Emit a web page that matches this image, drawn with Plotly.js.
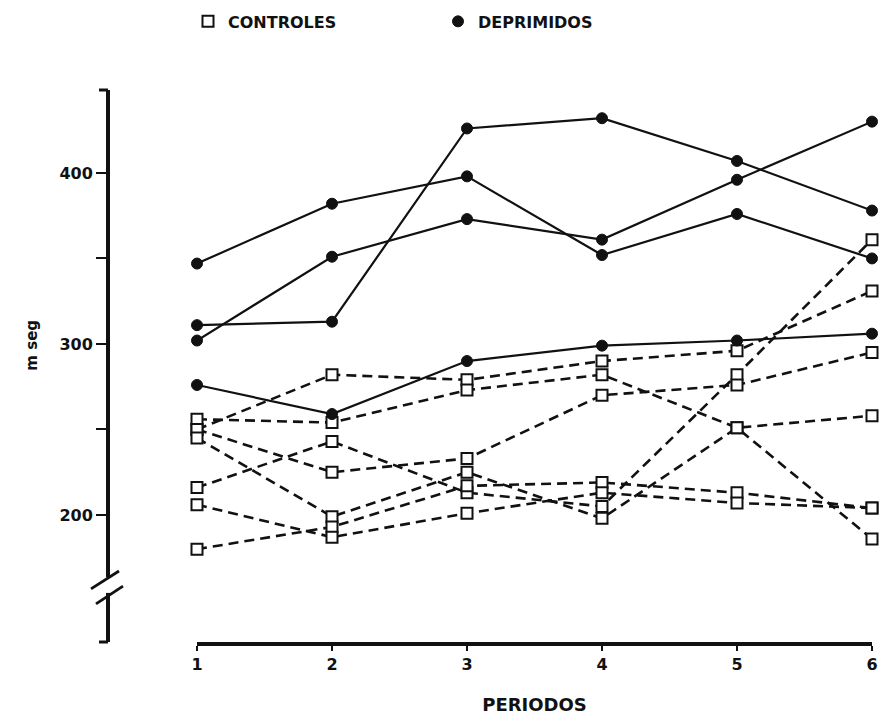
<!DOCTYPE html>
<html>
<head>
<meta charset="utf-8">
<script src="https://cdn.plot.ly/plotly-3.0.1.min.js"></script>
<style>html,body{margin:0;padding:0;background:#fff;}#chart{width:879px;height:720px;}</style>
</head>
<body>
<div id="chart"></div>
<script>
// Periods (x categories)
const periods = [1, 2, 3, 4, 5, 6];
const periodLabels = ['1', '2', '3', '4', '5', '6'];

// Controles (ms) — one array per subject
const control1 = [250, 282, 279, 290, 296, 331];
const control2 = [256, 254, 273, 282, 251, 186];
const control3 = [216, 243, 213, 205, 282, 361];
const control4 = [250, 225, 233, 270, 276, 295];
const control5 = [245, 199, 225, 198, 251, 258];
const control6 = [180, 193, 217, 219, 213, 204];
const control7 = [206, 187, 201, 213, 207, 204];

// Deprimidos (ms) — one array per subject
const deprimido1 = [347, 382, 398, 352, 376, 350];
const deprimido2 = [311, 313, 426, 432, 407, 378];
const deprimido3 = [302, 351, 373, 361, 396, 430];
const deprimido4 = [276, 259, 290, 299, 302, 306];

// Y ticks
const yTickVals = [200, 250, 300, 350, 400];
const yTickText = ['200', '', '300', '', '400'];

const controls = [control1, control2, control3, control4, control5, control6, control7];
const deprimidos = [deprimido1, deprimido2, deprimido3, deprimido4];

const FONT = 'DejaVu Sans, Arial, sans-serif';
const traces = [];

controls.forEach(function (s) {
  traces.push({
    x: periods, y: s, type: 'scatter', mode: 'lines',
    line: {color: '#111', width: 2.6, dash: '10px,6px'},
    showlegend: false, hoverinfo: 'skip', cliponaxis: false
  });
});
deprimidos.forEach(function (s) {
  traces.push({
    x: periods, y: s, type: 'scatter', mode: 'lines',
    line: {color: '#111', width: 2.2},
    showlegend: false, hoverinfo: 'skip', cliponaxis: false
  });
});

function flatX(series) { return series.flatMap(function () { return periods; }); }
function flatY(series) { return series.flatMap(function (s) { return s; }); }

traces.push({
  x: flatX(controls), y: flatY(controls), type: 'scatter', mode: 'markers',
  name: 'CONTROLES',
  marker: {symbol: 'square', size: 11, color: '#fff', line: {color: '#111', width: 2}},
  cliponaxis: false, hoverinfo: 'x+y'
});
traces.push({
  x: flatX(deprimidos), y: flatY(deprimidos), type: 'scatter', mode: 'markers',
  name: 'DEPRIMIDOS',
  marker: {symbol: 'circle', size: 11, color: '#111', line: {color: '#111', width: 1}},
  cliponaxis: false, hoverinfo: 'x+y'
});

const L = 108, R = 7, T = 90, B = 78;
const plotW = 879 - L - R;
const xDomStart = (197 - L) / plotW;
function px2paper(px) { return (px - L) / plotW; }

const layout = {
  width: 879, height: 720,
  margin: {l: L, r: R, t: T, b: B, autoexpand: false},
  paper_bgcolor: '#fff', plot_bgcolor: '#fff',
  font: {family: FONT, color: '#111', size: 16, weight: 'bold'},
  showlegend: true,
  legend: {
    orientation: 'h', x: px2paper(188), xanchor: 'left', y: 1.155, yanchor: 'top',
    entrywidth: 205, entrywidthmode: 'pixels',
    font: {family: FONT, size: 16, color: '#111', weight: 'bold'},
    itemclick: false, itemdoubleclick: false
  },
  xaxis: {
    domain: [xDomStart, 1], range: [1, 6], anchor: 'y',
    showline: true, linecolor: '#111', linewidth: 4,
    showgrid: false, zeroline: false,
    tickmode: 'array', tickvals: periods, ticktext: periodLabels,
    ticks: 'outside', ticklen: 5, tickwidth: 2, tickcolor: '#111',
    tickfont: {family: FONT, size: 16, color: '#111', weight: 'bold'},
    title: {text: 'PERIODOS', standoff: 26, font: {family: FONT, size: 18, color: '#111', weight: 'bold'}}
  },
  yaxis: {
    range: [125.7, 448.5], anchor: 'free', position: 0,
    showline: true, linecolor: '#111', linewidth: 4,
    showgrid: false, zeroline: false,
    tickmode: 'array', tickvals: yTickVals, ticktext: yTickText,
    ticks: 'outside', ticklen: 10, tickwidth: 2, tickcolor: '#111',
    tickfont: {family: FONT, size: 16, color: '#111', weight: 'bold'}
  },
  annotations: [
    {text: 'm seg', xref: 'paper', yref: 'y', x: px2paper(32), y: 299,
     xanchor: 'center', yanchor: 'middle', textangle: -90, showarrow: false,
     font: {family: FONT, size: 15, color: '#111', weight: 'bold'}}
  ],
  shapes: [
    // axis break: gap and two slashes
    {type: 'rect', xref: 'paper', yref: 'y', x0: -0.008, x1: 0.008, y0: 154.4, y1: 163.7,
     fillcolor: '#fff', line: {width: 0}, layer: 'above'},
    {type: 'line', xref: 'paper', yref: 'y', x0: px2paper(91), x1: px2paper(119), y0: 156.8, y1: 167.2,
     line: {color: '#111', width: 2.8}, layer: 'above'},
    {type: 'line', xref: 'paper', yref: 'y', x0: px2paper(96), x1: px2paper(123), y0: 148.0, y1: 158.4,
     line: {color: '#111', width: 2.8}, layer: 'above'},
    // axis end caps
    {type: 'line', xref: 'paper', yref: 'paper', x0: px2paper(99), x1: 0, y0: 1, y1: 1,
     line: {color: '#111', width: 3}},
    {type: 'line', xref: 'paper', yref: 'paper', x0: px2paper(99), x1: 0, y0: 0, y1: 0,
     line: {color: '#111', width: 3}}
  ]
};

Plotly.newPlot('chart', traces, layout, {displayModeBar: false, staticPlot: true});
</script>
</body>
</html>
